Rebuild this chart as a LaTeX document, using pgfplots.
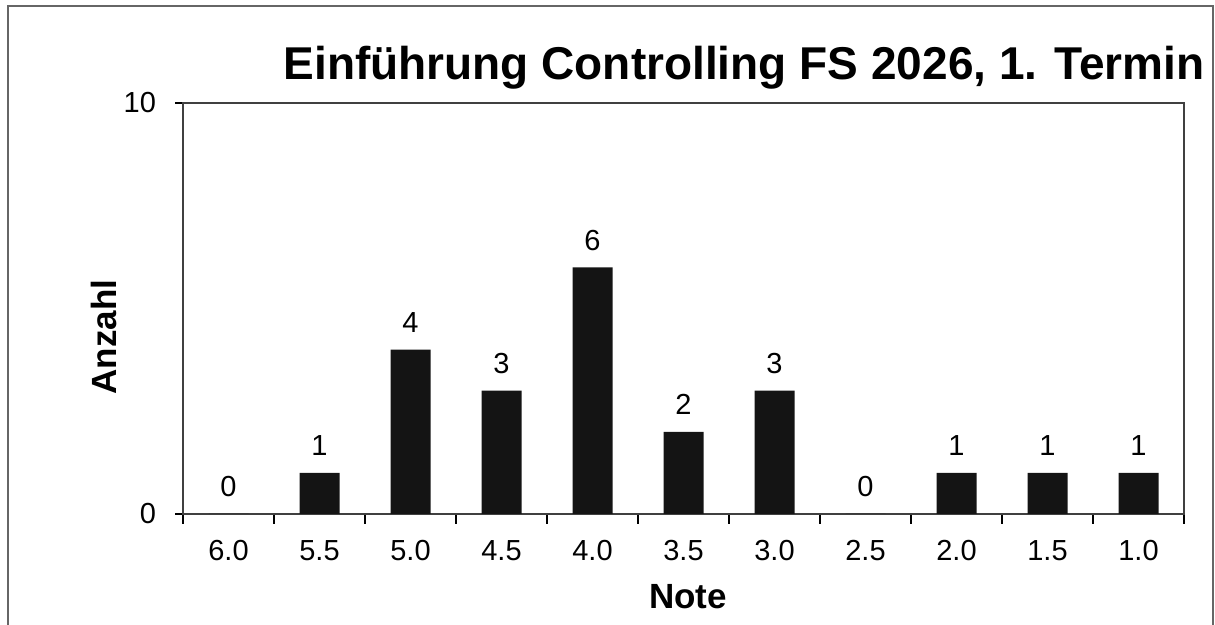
\documentclass[border=0pt]{standalone}
\usepackage{pgfplots}
\pgfplotsset{compat=1.18}
\usepackage{fontspec}
\setmainfont{Liberation Sans}
\pgfplotsset{/pgf/number format/assume math mode=true}
\begin{document}
\begin{tikzpicture}[x=0.5pt,y=0.5pt]
\useasboundingbox (0,0) rectangle (1215,625);
\draw[black!60, line width=0.8pt] (8,0) -- (8,619) -- (1213,619) -- (1213,0);
\begin{axis}[
  at={(91.5pt,55.5pt)}, anchor=south west,
  scale only axis, width=500.5pt, height=205.5pt,
  xmin=-0.5, xmax=10.5, ymin=0, ymax=10,
  ytick={0,10},
  xtick={0,...,10},
  xticklabels={6.0,5.5,5.0,4.5,4.0,3.5,3.0,2.5,2.0,1.5,1.0},
  major x tick style={draw=none},
  minor xtick={-0.5,0.5,...,10.5},
  tick align=outside, tick pos=left,
  major tick length=4pt, minor tick length=5pt,
  tick style={black, line width=0.6pt},
  axis line style={black!75, line width=0.6pt},
  ticklabel style={font=\fontsize{14.5}{14.5}\selectfont},
  xticklabel style={yshift=-5.5pt},
  yticklabel style={xshift=-6pt},
  ybar, bar width=20pt,
  nodes near coords,
  every node near coord/.append style={font=\fontsize{14.5}{14.5}\selectfont, yshift=5pt},
]
\addplot[fill=black!92, draw=none] coordinates {
  (0,0) (1,1) (2,4) (3,3) (4,6) (5,2) (6,3) (7,0) (8,1) (9,1) (10,1)
};
\end{axis}
\node[font=\bfseries\fontsize{23}{23}\selectfont, anchor=base] at (744,545) {Einführung Controlling FS 2026, 1. Termin};
\node[font=\bfseries\fontsize{17.5}{17.5}\selectfont, rotate=90] at (104,288) {Anzahl};
\node[font=\bfseries\fontsize{17.5}{17.5}\selectfont, anchor=base] at (688,16) {Note};
\end{tikzpicture}
\end{document}
